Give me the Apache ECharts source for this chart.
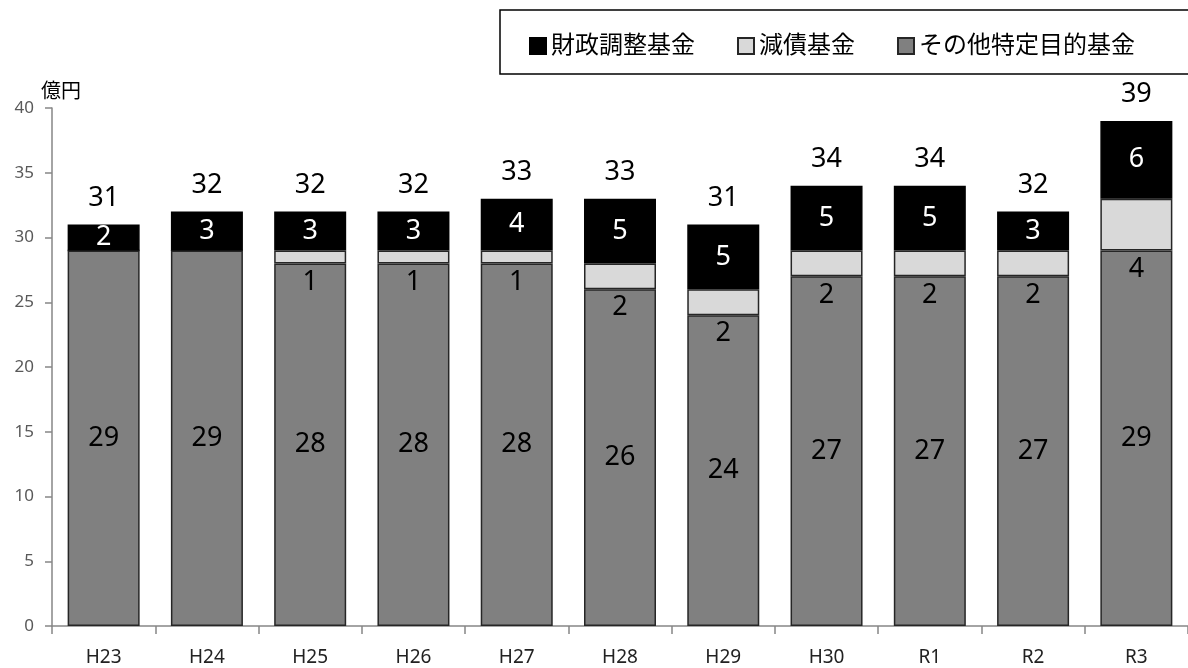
<!DOCTYPE html>
<html><head><meta charset="utf-8">
<script src="https://cdn.jsdelivr.net/npm/echarts@6/dist/echarts.min.js"></script>
<style>html,body{margin:0;padding:0;background:#fff}#c{width:1188px;height:668px}</style>
</head><body><div id="c"></div>
<script>
const categories = ['H23','H24','H25','H26','H27','H28','H29','H30','R1','R2','R3'];
const otherFund = [29,29,28,28,28,26,24,27,27,27,29];
const debtFund = [0,0,1,1,1,2,2,2,2,2,4];
const adjustFund = [2,3,3,3,4,5,5,5,5,3,6];
const totals = [31,32,32,32,33,33,31,34,34,32,39];
const yTicks = [0,5,10,15,20,25,30,35,40];
const seriesNames = ['財政調整基金','減債基金','その他特定目的基金'];

const font = '"Noto Sans", "Noto Sans CJK JP", sans-serif';
const chart = echarts.init(document.getElementById('c'));
const numLabel = {fontFamily: font, fontSize: 27, color: '#000'};
chart.setOption({
  animation: false,
  grid: {left: 52, right: -7, top: 108, bottom: 42},
  graphic: [
    {type: 'rect', shape: {x: 500, y: 10, width: 720, height: 64}, style: {fill: '#fff', stroke: '#000', lineWidth: 1.5}, z: 0},
    {type: 'text', left: 41, top: 82, style: {text: '億円', font: '20px ' + font, fill: '#000'}}
  ],
  legend: {
    data: seriesNames, left: 524, top: 29, icon: 'rect', itemWidth: 16, itemHeight: 16, itemGap: 42,
    textStyle: {fontFamily: font, fontSize: 24, color: '#000'}, z: 5
  },
  xAxis: {
    type: 'category', data: categories,
    axisLine: {lineStyle: {color: '#868686', width: 1.5}},
    axisTick: {show: true, length: 8, lineStyle: {color: '#868686', width: 1.5}},
    axisLabel: {fontFamily: font, fontSize: 19, color: '#222', margin: 22}
  },
  yAxis: {
    type: 'value', min: yTicks[0], max: yTicks[yTicks.length-1], interval: 5,
    splitLine: {show: false},
    axisLine: {show: true, lineStyle: {color: '#868686', width: 1.5}},
    axisTick: {show: true, length: 7, lineStyle: {color: '#868686', width: 1.5}},
    axisLabel: {fontFamily: font, fontSize: 17, color: '#595959', margin: 18}
  },
  series: [
    {name: seriesNames[2], type: 'bar', stack: 't', data: otherFund, barWidth: 72,
     itemStyle: {color: '#808080', borderColor: '#262626', borderWidth: 1.5},
     label: {show: true, position: 'inside', ...numLabel}},
    {name: seriesNames[1], type: 'bar', stack: 't', data: debtFund, barWidth: 72,
     itemStyle: {color: '#d9d9d9', borderColor: '#262626', borderWidth: 1.5},
     label: {show: true, position: 'bottom', distance: 5, ...numLabel, formatter: p => p.value ? p.value : ''}},
    {name: seriesNames[0], type: 'bar', stack: 't', data: adjustFund, barWidth: 72,
     itemStyle: {color: '#000', borderColor: '#000', borderWidth: 1.5},
     label: {show: true, position: 'inside', ...numLabel, color: '#fff'}},
    {name: 'total', type: 'bar', stack: 't', data: totals.map(() => 0), barWidth: 72,
     itemStyle: {color: 'transparent'},
     label: {show: true, position: 'top', distance: 13, ...numLabel, formatter: p => totals[p.dataIndex]}}
  ]
});
</script></body></html>
